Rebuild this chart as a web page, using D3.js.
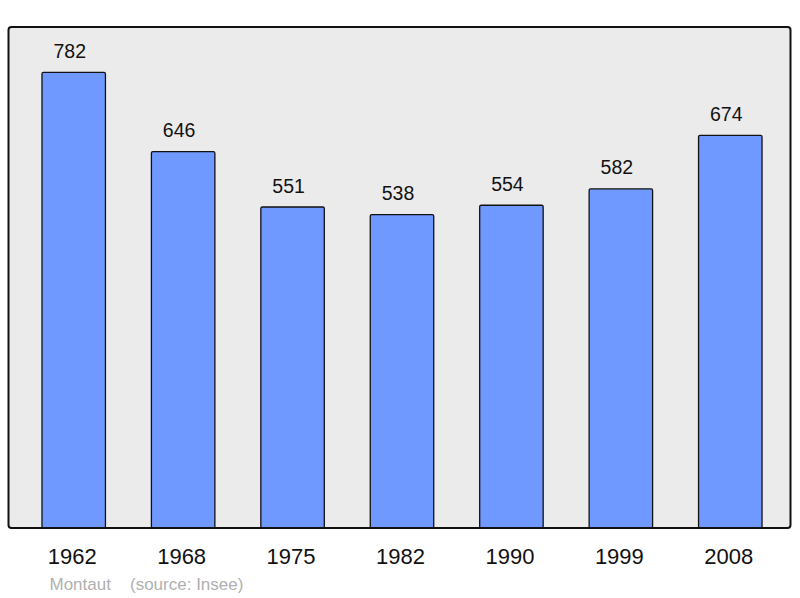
<!DOCTYPE html>
<meta charset="utf-8">
<head>
    <title>Population chart</title>
    <script src="https://d3js.org/d3.v7.min.js"></script>
    <style>
        body { margin: 0; background: white; }
        text { font-family: "Liberation Sans", Arial, sans-serif; }
    </style>
</head>
<body>
    <div id="chart"></div>
    <script>
        // data
        var years = ["1962", "1968", "1975", "1982", "1990", "1999", "2008"];
        var population = [782, 646, 551, 538, 554, 582, 674];
        var commune = "Montaut";
        var source = "(source: Insee)";

        var width = 800;
        var height = 598;

        // plot frame
        var frame = { left: 8.5, top: 27, right: 790.5, bottom: 528 };

        var svg = d3.select("#chart")
            .append("svg")
            .attr("width", width)
            .attr("height", height);

        var x = d3.scaleBand()
            .domain(years)
            .range([19, 785])
            .paddingInner(0.42)
            .paddingOuter(0.21);

        var y = d3.scaleLinear()
            .domain([0, 860])
            .range([frame.bottom, frame.top]);

        // background
        svg.append("rect")
            .attr("x", frame.left)
            .attr("y", frame.top)
            .attr("width", frame.right - frame.left)
            .attr("height", frame.bottom - frame.top)
            .attr("rx", 3)
            .style("fill", "#ebebeb");

        // bars
        svg.selectAll(".bar")
            .data(years)
            .enter().append("rect")
            .attr("class", "bar")
            .attr("x", function(d) { return x(d); })
            .attr("y", function(d, i) { return y(population[i]); })
            .attr("width", x.bandwidth())
            .attr("height", function(d, i) { return y(0) - y(population[i]); })
            .attr("rx", 1.5)
            .style("fill", "#7099ff")
            .style("stroke", "#111")
            .style("stroke-width", 1.3);

        // value labels (sit a little left of the bar centre)
        svg.selectAll(".val")
            .data(years)
            .enter().append("text")
            .attr("class", "val")
            .attr("x", function(d) { return x(d) + x.bandwidth() / 2 - 4; })
            .attr("y", function(d, i) { return y(population[i]) - 14.5; })
            .attr("text-anchor", "middle")
            .style("font-size", "19.5px")
            .style("fill", "#111")
            .text(function(d, i) { return population[i]; });

        // frame border drawn over the bars
        svg.append("rect")
            .attr("x", frame.left)
            .attr("y", frame.top)
            .attr("width", frame.right - frame.left)
            .attr("height", frame.bottom - frame.top)
            .attr("rx", 3)
            .style("fill", "none")
            .style("stroke", "#111")
            .style("stroke-width", 2);

        // year labels
        svg.selectAll(".year")
            .data(years)
            .enter().append("text")
            .attr("class", "year")
            .attr("x", function(d) { return x(d) + x.bandwidth() / 2 - 1.5; })
            .attr("y", 564)
            .attr("text-anchor", "middle")
            .style("font-size", "22px")
            .style("fill", "#111")
            .text(function(d) { return d; });

        // footer
        svg.append("text")
            .attr("x", 49.5)
            .attr("y", 590)
            .style("font-size", "17px")
            .style("fill", "#b0b0b0")
            .text(commune);

        svg.append("text")
            .attr("x", 130)
            .attr("y", 590)
            .style("font-size", "17px")
            .style("fill", "#b0b0b0")
            .text(source);
    </script>
</body>
</html>
